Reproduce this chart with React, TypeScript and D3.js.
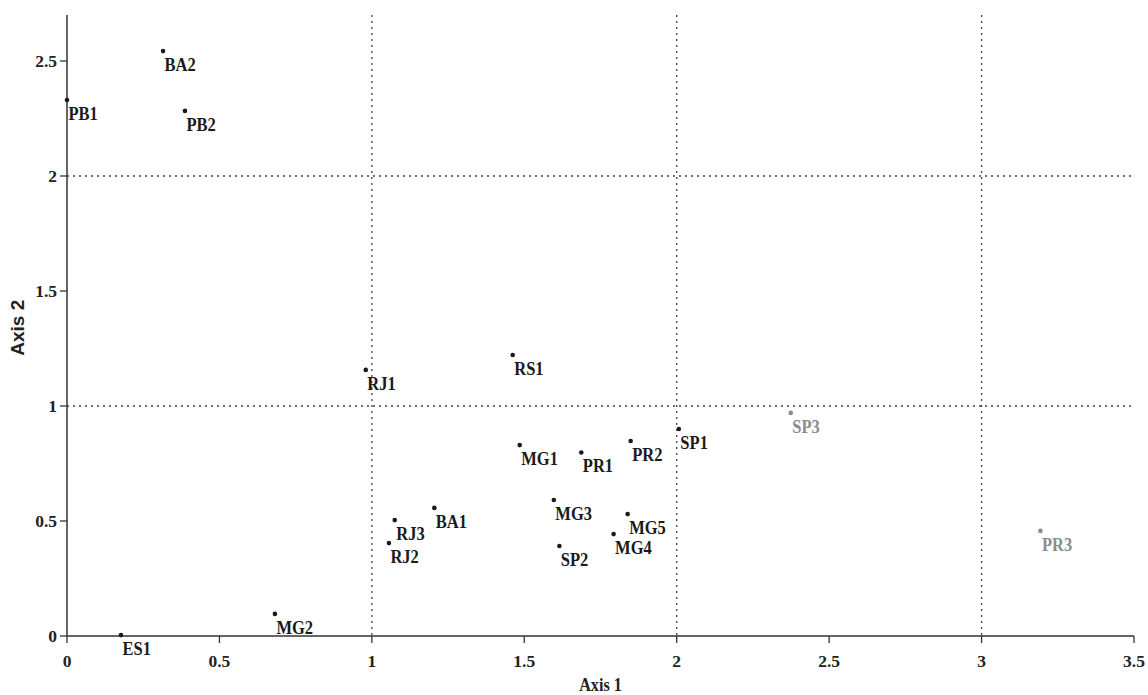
import React from "react";
import * as d3 from "d3";

const labels = ["PB1","BA2","PB2","RJ1","RS1","MG1","PR1","PR2","SP1","SP3","PR3","MG3","MG5","MG4","SP2","BA1","RJ3","RJ2","MG2","ES1"];
const axis1 = [0.0,0.315,0.387,0.98,1.462,1.485,1.687,1.849,2.007,2.374,3.193,1.597,1.839,1.793,1.615,1.205,1.075,1.056,0.682,0.177];
const axis2 = [2.33,2.543,2.283,1.157,1.222,0.830,0.798,0.848,0.900,0.970,0.457,0.591,0.530,0.443,0.391,0.557,0.504,0.404,0.096,0.004];
const grey = ["SP3","PR3"];
const xTicks = [0,0.5,1,1.5,2,2.5,3,3.5];
const yTicks = [0,0.5,1,1.5,2,2.5];
const xGrid = [1,2,3];
const yGrid = [1,2];

export default function App() {
  const W = 1148, H = 695;
  const x = d3.scaleLinear().domain([0,3.5]).range([67,1134]);
  const y = d3.scaleLinear().domain([0,2.5]).range([636,61]);
  const serif = "'Liberation Serif', 'Times New Roman', serif";
  const axisCol = "#333";
  return (
    <svg width={W} height={H} style={{position:"absolute",left:0,top:0,background:"#fff"}}>
      {xGrid.map(v => (
        <line key={"gx"+v} x1={x(v)} x2={x(v)} y1={y(2.7)} y2={y(0)} stroke="#444" strokeWidth={1.3} strokeDasharray="2,4" />
      ))}
      {yGrid.map(v => (
        <line key={"gy"+v} x1={x(0)} x2={x(3.5)} y1={y(v)} y2={y(v)} stroke="#444" strokeWidth={1.3} strokeDasharray="2,4" />
      ))}
      <line x1={x(0)} x2={x(0)} y1={y(2.7)} y2={y(0)} stroke={axisCol} strokeWidth={1.5} />
      <line x1={x(0)} x2={x(3.5)} y1={y(0)} y2={y(0)} stroke={axisCol} strokeWidth={1.5} />
      {xTicks.map(v => (
        <g key={"xt"+v}>
          <line x1={x(v)} x2={x(v)} y1={y(0)} y2={y(0)+7} stroke={axisCol} strokeWidth={1.3} />
          <text x={x(v)} y={667} textAnchor="middle" fontFamily={serif} fontWeight="bold" fontSize={17.5} fill="#222">{String(v)}</text>
        </g>
      ))}
      {yTicks.map(v => (
        <g key={"yt"+v}>
          <line x1={x(0)-7} x2={x(0)} y1={y(v)} y2={y(v)} stroke={axisCol} strokeWidth={1.3} />
          <text x={x(0)-10} y={y(v)} dy="0.35em" textAnchor="end" fontFamily={serif} fontWeight="bold" fontSize={17.5} fill="#222">{String(v)}</text>
        </g>
      ))}
      <text transform={`translate(${x(1.75)},${691}) scale(0.9,1)`} textAnchor="middle" fontFamily={serif} fontWeight="bold" fontSize={18} fill="#222">Axis 1</text>
      <text transform={`translate(24,${y(1.34)}) rotate(-90)`} textAnchor="middle" fontFamily="'Liberation Sans', Arial, sans-serif" fontWeight="bold" fontSize={19} fill="#222">Axis 2</text>
      {labels.map((l, i) => {
        const c = grey.includes(l) ? "#8c8c8c" : "#1a1a1a";
        const px = x(axis1[i]);
        const py = y(axis2[i]);
        return (
          <g key={l}>
            <circle cx={px} cy={py} r={2.3} fill={c} />
            <text transform={`translate(${px+1.5},${py+20}) scale(0.87,1)`} fontFamily={serif} fontWeight="bold" fontSize={19} fill={c}>{l}</text>
          </g>
        );
      })}
    </svg>
  );
}
